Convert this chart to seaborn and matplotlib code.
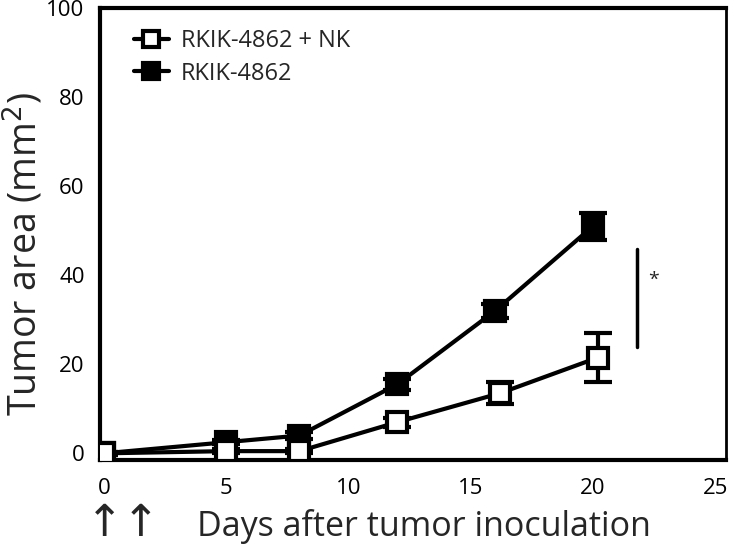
import numpy as np
import pandas as pd
import matplotlib
matplotlib.use("Agg")
import matplotlib.pyplot as plt
import seaborn as sns
from matplotlib.lines import Line2D

# Data
days = [0, 5, 8, 12, 16, 20]
nk_days = [0, 5, 8, 12, 16.2, 20.2]
nk_area = [0.0, 0.5, 0.5, 7.0, 13.5, 21.5]
nk_err = [0.3, 0.5, 0.5, 1.0, 2.5, 5.5]
ctrl_area = [0.0, 2.5, 4.0, 15.5, 32.0, 51.0]
ctrl_err = [0.3, 0.5, 0.8, 1.2, 1.5, 3.0]
labels = ["RKIK-4862 + NK", "RKIK-4862"]

sns.set_theme(style="white")
plt.rcParams["font.family"] = ["Open Sans", "DejaVu Sans"]

df = pd.DataFrame({
    "day": nk_days + days,
    "area": nk_area + ctrl_area,
    "group": [labels[0]] * len(days) + [labels[1]] * len(days),
})

fig = plt.figure(figsize=(7.29, 5.47), dpi=100)
ax = fig.add_axes([0.137, 0.159, 0.859, 0.826])

# error bars first so markers sit on top
ax.errorbar(nk_days, nk_area, yerr=nk_err, fmt="none", ecolor="black",
            elinewidth=3, capsize=10, capthick=3, zorder=2)
ax.errorbar(days, ctrl_area, yerr=ctrl_err, fmt="none", ecolor="black",
            elinewidth=3, capsize=10, capthick=3, zorder=2)

sns.lineplot(data=df, x="day", y="area", hue="group", style="group",
             palette=["black", "black"], markers=["s", "s"], dashes=False,
             linewidth=3, markersize=14, ax=ax, legend=False, zorder=3)
# open vs filled markers
ax.lines[-2].set_markerfacecolor("white")
ax.lines[-2].set_markeredgecolor("black")
ax.lines[-2].set_markeredgewidth(3)
ax.lines[-1].set_markerfacecolor("black")
ax.lines[-1].set_markeredgecolor("black")
ax.lines[-1].set_markeredgewidth(3)
ax.lines[-2].set_zorder(4)

# legend
handles = [
    Line2D([], [], color="black", lw=3, marker="s", markersize=11,
           markerfacecolor="white", markeredgewidth=3),
    Line2D([], [], color="black", lw=3, marker="s", markersize=11,
           markerfacecolor="black", markeredgewidth=3),
]
ax.legend(handles, labels, loc="upper left", frameon=False, fontsize=17,
          handlelength=1.5, handletextpad=0.5, borderaxespad=0.5,
          labelspacing=0.35, bbox_to_anchor=(0.02, 1.0))

# significance bar
ax.plot([21.8, 21.8], [24, 46], color="black", lw=2.5)
ax.text(22.5, 39, "*", fontsize=14, ha="center", va="center")

ax.set_xlim(-0.16, 25.45)
ax.set_ylim(-1.5, 100)
ax.set_xticks([0, 5, 10, 15, 20, 25])
ax.set_yticks([0, 20, 40, 60, 80, 100])
ax.tick_params(axis="both", direction="out", length=8, width=3,
               labelsize=16, color="black", labelcolor="black")
ax.tick_params(axis="x", pad=5)
ax.tick_params(axis="y", pad=3)
for sp in ax.spines.values():
    sp.set_linewidth(3)
    sp.set_color("black")
ax.spines["right"].set_linewidth(2)

ax.set_xlabel("")
ax.set_ylabel("")
fig.text(0.033, 0.535, "Tumor area (mm$^2$)", fontsize=27, rotation=90,
         ha="center", va="center")

fig.text(0.118, 0.0, "\u2191\u2191", fontsize=32, ha="left", va="bottom")
fig.text(0.581, 0.037, "Days after tumor inoculation", fontsize=24.5,
         ha="center", va="center")

fig.savefig("out.png", dpi=100, facecolor="white")
